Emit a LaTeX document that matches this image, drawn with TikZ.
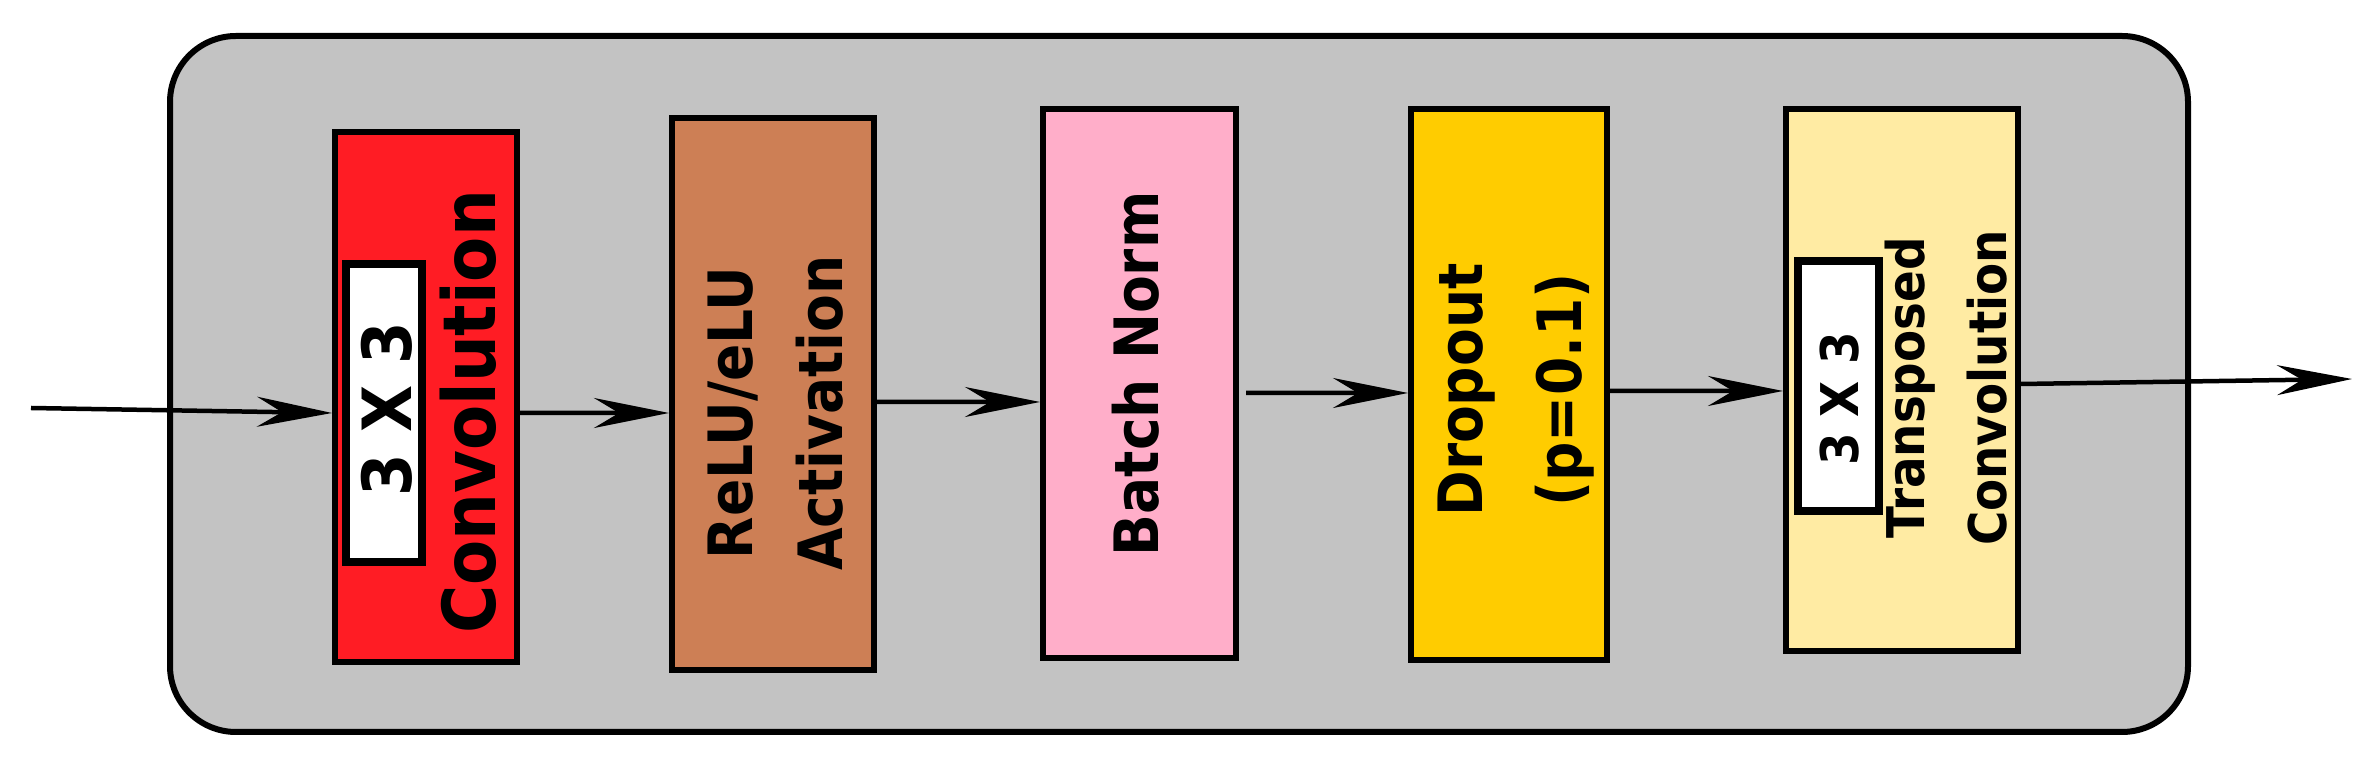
\documentclass[tikz,border=0pt]{standalone}
\usepackage{fontspec}
\setmainfont{DejaVu Sans}[FakeStretch=0.9]
\usepackage{tikz}
\usetikzlibrary{arrows.meta, positioning}
\definecolor{framegray}{HTML}{C3C3C3}
\definecolor{convred}{HTML}{FF1C24}
\definecolor{relubrown}{HTML}{CD7F55}
\definecolor{normpink}{HTML}{FFAEC9}
\definecolor{dropgold}{HTML}{FFCC00}
\definecolor{transyellow}{HTML}{FFEBA3}

\begin{document}
\begin{tikzpicture}[ frame/.style={draw, line width=0.06cm, fill=framegray,
      rounded corners=0.66cm, minimum width=20.18cm, minimum height=6.96cm},
      layer/.style={draw, line width=0.06cm, inner sep=0pt},
      kernel/.style={draw, fill=white, line width=0.075cm, inner sep=0pt},
      boxtext/.style={rotate=90, align=center, inner sep=0pt},
      flow/.style={-{Stealth[length=0.75cm, width=0.3cm, inset=0.25cm]},
      line width=0.045cm} ]
    \useasboundingbox (0,0) rectangle (23.78,7.62);

    % Outer block
    \node[frame] (frame) at (11.79,3.78) {};

    % Layers of the block
    \node[layer, fill=convred, minimum width=1.82cm, minimum height=5.30cm]
    (conv) at (4.26,3.65) {}; \node[layer, fill=relubrown, minimum
    width=2.02cm, minimum height=5.52cm] (relu) at (7.73,3.68) {};
    \node[layer, fill=normpink, minimum width=1.93cm, minimum height=5.49cm]
    (norm) at (11.395,3.785) {}; \node[layer, fill=dropgold, minimum
    width=1.96cm, minimum height=5.51cm] (drop) at (15.09,3.775) {};
    \node[layer, fill=transyellow, minimum width=2.32cm, minimum
    height=5.42cm] (trans) at (19.02,3.82) {};

    % Kernel size boxes
    \node[kernel, minimum width=0.76cm, minimum height=2.98cm] (convk) at
    (3.84,3.49) {}; \node[kernel, minimum width=0.81cm, minimum height=2.50cm]
    (transk) at (18.385,3.76) {};

    % Labels for the layers
    \node[boxtext, font=\bfseries\fontsize{20.8pt}{26pt}\selectfont]
    (convtext) at (4.68,3.50) {Convolution};
    \node[boxtext, font=\bfseries\fontsize{19.3pt}{24pt}\selectfont]
    (convktext) at (3.865,3.53) {3 X 3};
    \node[boxtext, font=\bfseries\fontsize{17.4pt}{25.6pt}\selectfont]
    (relutext) at (7.755,3.49) {ReLU/eLU\\Activation};
    \node[boxtext, font=\bfseries\fontsize{17.4pt}{25.6pt}\selectfont]
    (normtext) at (11.355,3.88) {Batch Norm};
    \node[boxtext, font=\bfseries\fontsize{17.4pt}{28pt}\selectfont]
    (droptext) at (15.16,3.72) {Dropout\\(p=0.1)};
    \node[boxtext, font=\bfseries\fontsize{14.8pt}{23.3pt}\selectfont]
    (transtext) at (19.46,3.74) {Transposed\\Convolution};
    \node[boxtext, font=\bfseries\fontsize{14.8pt}{20pt}\selectfont]
    (transktext) at (18.40,3.63) {3 X 3};

    % Data flow
    \coordinate (in) at (0.31,3.54); \coordinate (out) at (23.52,3.83);
    \draw[flow] (in) -- ([yshift=-0.16cm]conv.west);
    \draw[flow] ([yshift=-0.16cm]conv.east) -- ([yshift=-0.19cm]relu.west);
    \draw[flow] ([yshift=-0.08cm]relu.east) -- ([yshift=-0.185cm]norm.west);
    \draw[flow] ([xshift=0.07cm, yshift=-0.095cm]norm.east) --
    ([yshift=-0.085cm]drop.west);
    \draw[flow] ([yshift=-0.065cm]drop.east) -- ([yshift=-0.11cm]trans.west);
    \draw[flow] ([yshift=-0.04cm]trans.east) -- (out);

    \end{tikzpicture}
\end{document}
